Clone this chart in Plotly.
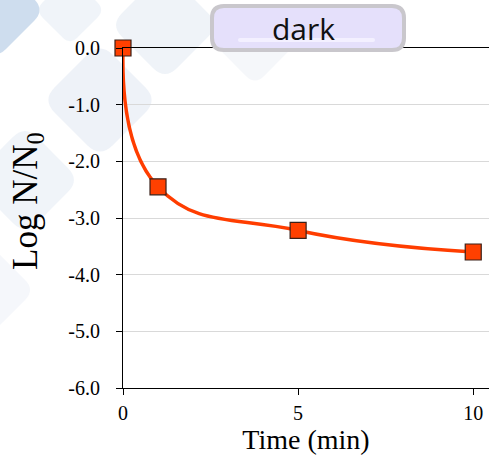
import plotly.graph_objects as go

time_min = [0, 1, 5, 10]
log_ratio = [0.0, -2.45, -3.22, -3.60]
y_tick_vals = [0, -1, -2, -3, -4, -5, -6]
y_tick_text = ["0.0", "-1.0", "-2.0", "-3.0", "-4.0", "-5.0", "-6.0"]
x_tick_vals = [0, 5, 10]
x_tick_text = ["0", "5", "10"]

W, H = 489, 455
L, R, T, B = 123, 0, 48, 67
PW, PH = W - L - R, H - T - B

def px(x):
    return (x - L) / PW

def py(y):
    return (H - B - y) / PH

def rdiamond(cx, cy, r, k=0.22):
    pts = [(cx, cy - r), (cx + r, cy), (cx, cy + r), (cx - r, cy)]
    segs = []
    n = len(pts)
    for i in range(n):
        p0 = pts[i - 1]; p1 = pts[i]; p2 = pts[(i + 1) % n]
        a = (p1[0] + (p0[0] - p1[0]) * k, p1[1] + (p0[1] - p1[1]) * k)
        b = (p1[0] + (p2[0] - p1[0]) * k, p1[1] + (p2[1] - p1[1]) * k)
        segs.append((a, p1, b))
    d = f"M {px(segs[0][0][0])},{py(segs[0][0][1])} "
    for i, (a, p1, b) in enumerate(segs):
        if i > 0:
            d += f"L {px(a[0])},{py(a[1])} "
        d += f"Q {px(p1[0])},{py(p1[1])} {px(b[0])},{py(b[1])} "
    d += "Z"
    return d

def rrect(x0, y0, x1, y1, rad):
    return (f"M {px(x0+rad)},{py(y0)} L {px(x1-rad)},{py(y0)} "
            f"Q {px(x1)},{py(y0)} {px(x1)},{py(y0+rad)} "
            f"L {px(x1)},{py(y1-rad)} Q {px(x1)},{py(y1)} {px(x1-rad)},{py(y1)} "
            f"L {px(x0+rad)},{py(y1)} Q {px(x0)},{py(y1)} {px(x0)},{py(y1-rad)} "
            f"L {px(x0)},{py(y0+rad)} Q {px(x0)},{py(y0)} {px(x0+rad)},{py(y0)} Z")

fig = go.Figure()
fig.add_trace(go.Scatter(
    x=time_min, y=log_ratio, mode="lines+markers",
    line=dict(color="#ff3d00", width=3.5, shape="spline", smoothing=1.3),
    marker=dict(symbol="square", size=16, color="#ff4000",
                line=dict(color="#3a2018", width=1.2)),
    cliponaxis=False, showlegend=False,
))

shapes = []
bg = [(-5, 10, 50, "rgba(190,210,232,0.75)"),
      (100, 100, 58, "rgba(226,233,243,0.6)"),
      (165, 25, 55, "rgba(226,233,243,0.55)"),
      (25, 180, 55, "rgba(230,236,245,0.6)"),
      (70, 10, 35, "rgba(226,233,243,0.5)"),
      (255, 45, 40, "rgba(235,240,246,0.5)"),
      (-10, 290, 45, "rgba(236,240,248,0.5)")]
for cx, cy, r, c in bg:
    shapes.append(dict(type="path", path=rdiamond(cx, cy, r), xref="paper", yref="paper",
                       fillcolor=c, line=dict(width=0), layer="below"))
shapes.append(dict(type="path", path=rrect(212, 6, 404, 50, 12), xref="paper", yref="paper",
                   fillcolor="#e5e0fb", line=dict(color="#c9c7cc", width=4), layer="above"))
shapes.append(dict(type="path", path=rrect(238, 38, 375, 42, 2), xref="paper", yref="paper",
                   fillcolor="#f3f0ff", line=dict(width=0), layer="above"))

fig.update_layout(
    width=W, height=H, margin=dict(l=L, r=R, t=T, b=B),
    paper_bgcolor="white", plot_bgcolor="rgba(0,0,0,0)",
    shapes=shapes,
    annotations=[
        dict(text="dark", xref="paper", yref="paper", x=px(303), y=py(29),
             showarrow=False, font=dict(family="Open Sans", size=30, color="#111"),
             xanchor="center", yanchor="middle"),
        dict(text="Log N/N<sub>0</sub>", xref="paper", yref="paper", x=px(28), y=py(201),
             showarrow=False, textangle=-90,
             font=dict(family="Liberation Serif", size=35, color="black"),
             xanchor="center", yanchor="middle"),
    ],
    xaxis=dict(range=[0, 10.45], tickvals=x_tick_vals, ticktext=x_tick_text,
               showline=True, linecolor="black", linewidth=1.2, mirror=True,
               ticks="outside", ticklen=6, tickcolor="black", showgrid=False, zeroline=False,
               ticklabelstandoff=1,
               tickfont=dict(family="Liberation Serif", size=20, color="black"),
               title=dict(text="Time (min)", font=dict(family="Liberation Serif", size=28, color="black"),
                          standoff=0)),
    yaxis=dict(range=[-6, 0], tickvals=y_tick_vals, ticktext=y_tick_text,
               showline=True, linecolor="black", linewidth=1.2,
               ticks="outside", ticklen=6, tickcolor="black",
               showgrid=True, gridcolor="#d9d9d9", gridwidth=1, zeroline=False,
               ticklabelstandoff=12,
               tickfont=dict(family="Liberation Serif", size=20, color="black")),
)
fig.write_html("out.html")
